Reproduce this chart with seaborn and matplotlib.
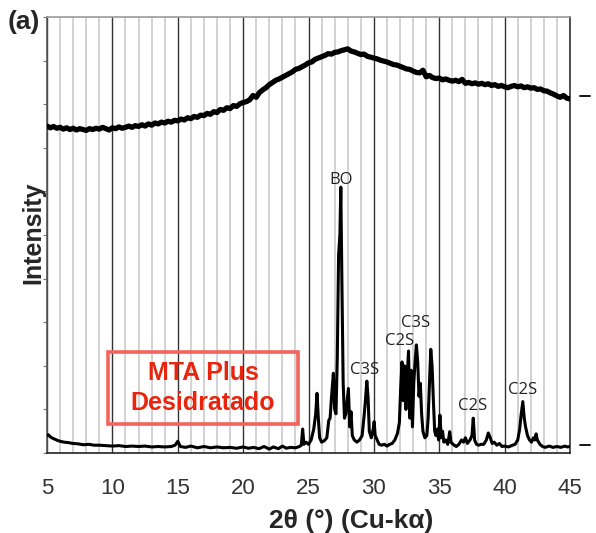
import matplotlib
matplotlib.use("Agg")
import matplotlib.pyplot as plt
import numpy as np
import pandas as pd
import seaborn as sns
from matplotlib.patches import Rectangle

# upper trace (hydrated / amorphous), scan step 0.25 deg from 5 to 45
top_y = [
    7.50, 7.46, 7.49, 7.45, 7.47, 7.43, 7.46, 7.42,
    7.45, 7.41, 7.44, 7.42, 7.40, 7.44, 7.42, 7.45,
    7.43, 7.47, 7.44, 7.41, 7.46, 7.44, 7.48, 7.45,
    7.47, 7.50, 7.47, 7.51, 7.49, 7.53, 7.50, 7.55,
    7.52, 7.57, 7.55, 7.59, 7.57, 7.61, 7.59, 7.63,
    7.62, 7.66, 7.64, 7.69, 7.67, 7.72, 7.70, 7.75,
    7.74, 7.79, 7.77, 7.83, 7.81, 7.88, 7.86, 7.92,
    7.90, 7.97, 7.95, 8.01, 8.04, 8.06, 8.10, 8.20,
    8.16, 8.27, 8.33, 8.38, 8.45, 8.50, 8.55, 8.58,
    8.62, 8.66, 8.70, 8.74, 8.80, 8.82, 8.86, 8.90,
    8.95, 8.97, 9.03, 9.06, 9.09, 9.12, 9.16, 9.15,
    9.19, 9.20, 9.23, 9.25, 9.27, 9.22, 9.20, 9.17,
    9.14, 9.15, 9.10, 9.08, 9.06, 9.04, 9.01, 8.99,
    8.97, 8.94, 8.91, 8.90, 8.87, 8.84, 8.81, 8.80,
    8.76, 8.73, 8.72, 8.78, 8.63, 8.66, 8.61, 8.59,
    8.60, 8.56, 8.58, 8.55, 8.53, 8.55, 8.52, 8.57,
    8.48, 8.50, 8.47, 8.49, 8.46, 8.48, 8.45, 8.47,
    8.43, 8.45, 8.41, 8.43, 8.40, 8.38, 8.41, 8.43,
    8.40, 8.42, 8.38, 8.40, 8.37, 8.38, 8.34, 8.35,
    8.31, 8.30, 8.26, 8.23, 8.19, 8.16, 8.20, 8.14,
    8.12,
]
top_x = np.linspace(5, 45, len(top_y))

# lower trace (MTA Plus desidratado)
bottom_x = [
    5.0, 5.1, 5.3, 5.5, 5.8, 6.0, 6.3, 6.6, 7.0, 7.4, 7.8, 8.2, 8.6, 9.0, 9.5,
    10.0, 10.5, 11.0, 11.5, 12.0, 12.5, 13.0, 13.5, 14.0, 14.5, 14.8, 15.0, 15.2,
    15.6, 16.0, 16.5, 17.0, 17.5, 18.0, 18.5, 19.0, 19.5, 20.0, 20.4, 20.8, 21.2,
    21.6, 22.0, 22.3, 22.7, 23.0, 23.3, 23.6, 24.0, 24.3,
    24.45, 24.55, 24.65, 24.8, 25.0, 25.2, 25.4, 25.55, 25.65, 25.75, 25.85, 26.0,
    26.2, 26.4, 26.55, 26.65, 26.75, 26.9, 27.0, 27.1, 27.2, 27.3, 27.4, 27.47,
    27.55, 27.65, 27.75, 27.85, 27.95, 28.05, 28.15, 28.25, 28.35, 28.5, 28.7,
    28.9, 29.1, 29.25, 29.35, 29.46, 29.55, 29.65, 29.8, 29.95, 30.02, 30.1, 30.25,
    30.4, 30.6, 30.8, 31.0, 31.2, 31.4, 31.6, 31.8, 31.95, 32.05, 32.15, 32.25,
    32.35, 32.45, 32.55, 32.65, 32.75, 32.85, 32.95, 33.05, 33.15, 33.25, 33.35,
    33.45, 33.55, 33.65, 33.75, 33.9, 34.05, 34.15, 34.25, 34.35, 34.45, 34.55,
    34.65, 34.75, 34.85, 34.95, 35.05, 35.15, 35.25, 35.35, 35.5, 35.65, 35.8,
    35.9, 36.05, 36.3, 36.5, 36.7, 36.85, 37.0, 37.15, 37.35, 37.5, 37.6, 37.7,
    37.85, 38.0, 38.2, 38.4, 38.6, 38.75, 38.9, 39.05, 39.2, 39.4, 39.6, 39.8,
    40.0, 40.3, 40.6, 40.8, 41.0, 41.15, 41.25, 41.39, 41.5, 41.6, 41.75, 41.9,
    42.05, 42.2, 42.3, 42.41, 42.5, 42.7, 42.9, 43.1, 43.4, 43.7, 44.0, 44.3,
    44.6, 44.8, 45.0,
]
bottom_y = [
    0.40, 0.42, 0.36, 0.33, 0.29, 0.27, 0.25, 0.24, 0.22, 0.21, 0.19, 0.20, 0.18, 0.18, 0.17,
    0.16, 0.17, 0.15, 0.16, 0.15, 0.16, 0.14, 0.15, 0.14, 0.15, 0.18, 0.27, 0.15,
    0.13, 0.16, 0.12, 0.15, 0.12, 0.14, 0.12, 0.13, 0.11, 0.14, 0.11, 0.13, 0.10,
    0.15, 0.09, 0.14, 0.10, 0.16, 0.11, 0.13, 0.12, 0.15,
    0.18, 0.55, 0.20, 0.25, 0.20, 0.30, 0.55, 0.90, 1.37, 0.80, 0.35, 0.25,
    0.28, 0.35, 0.75, 0.80, 1.25, 1.83, 1.00, 0.90, 2.20, 4.55, 5.00, 6.10,
    4.00, 1.60, 0.80, 0.90, 1.20, 1.48, 0.60, 0.95, 0.40, 0.30, 0.25,
    0.30, 0.40, 0.85, 1.20, 1.65, 1.30, 0.50, 0.35, 0.55, 0.72, 0.40, 0.30,
    0.20, 0.18, 0.20, 0.16, 0.20, 0.22, 0.30, 0.45, 0.70, 1.50, 2.09, 1.20,
    2.00, 1.00, 1.80, 2.34, 0.80, 1.90, 0.60, 1.60, 2.10, 2.48, 2.10,
    1.30, 1.60, 0.90, 0.50, 0.35, 0.40, 0.80, 1.60, 2.38, 2.00, 1.20,
    0.50, 0.40, 0.55, 0.30, 0.87, 0.35, 0.50, 0.25, 0.30, 0.20, 0.49,
    0.25, 0.20, 0.15, 0.20, 0.30, 0.25, 0.35, 0.22, 0.30, 0.40, 0.80, 0.30,
    0.20, 0.18, 0.20, 0.20, 0.30, 0.46, 0.35, 0.22, 0.25, 0.18, 0.22, 0.15,
    0.16, 0.14, 0.18, 0.20, 0.30, 0.55, 0.85, 1.18, 0.80, 0.60, 0.40, 0.30,
    0.25, 0.35, 0.30, 0.44, 0.30, 0.20, 0.15, 0.13, 0.16, 0.13, 0.15, 0.13,
    0.16, 0.14, 0.15,
]

# phase labels
peak_labels = ["BO", "C3S", "C2S", "C3S", "C2S", "C2S"]
peak_x = [27.47, 29.32, 31.97, 33.2, 37.58, 41.39]
peak_y = [6.26, 1.91, 2.57, 2.98, 1.08, 1.45]

# reference marks on the right
ref_levels = [8.2, 0.18]

sns.set_style("white")
plt.rcParams['font.family'] = ['Liberation Sans', 'DejaVu Sans']

fig = plt.figure(figsize=(5.96, 5.33), dpi=100)
ax = fig.add_axes([0.0789, 0.150, 0.8775, 0.818])

df_top = pd.DataFrame({"theta": top_x, "I": top_y})
df_bot = pd.DataFrame({"theta": bottom_x, "I": bottom_y})
sns.lineplot(data=df_top, x="theta", y="I", color="black", lw=3.8, sort=False,
             estimator=None, ax=ax, zorder=5)
sns.lineplot(data=df_bot, x="theta", y="I", color="black", lw=2.2, sort=False,
             estimator=None, ax=ax, zorder=5)

ax.set_xlim(5, 45)
ax.set_ylim(0, 10)
ax.set_xticks(range(5, 46, 5))
ax.set_xticks(range(5, 46), minor=True)
ax.set_yticks(range(0, 11))
ax.set_yticklabels([])
ax.grid(which="minor", axis="x", color="#d2d2d2", lw=1.4, zorder=0)
ax.grid(which="major", axis="x", color="#333333", lw=1.0, zorder=1)
ax.set_axisbelow(True)
ax.tick_params(axis="x", which="major", direction="out", length=6, width=1.0,
               color="#333333", labelsize=16, labelcolor="#333333", pad=12)
ax.tick_params(axis="x", which="minor", length=0)
ax.tick_params(axis="y", direction="out", length=3, width=0.8, color="#777777", left=True)
for side, col in [("left", "#555555"), ("bottom", "#222222"), ("top", "#999999"), ("right", "#333333")]:
    ax.spines[side].set_color(col)
    ax.spines[side].set_linewidth(1.2)
ax.set_xlabel("")
ax.set_ylabel("")

for lab, px, py in zip(peak_labels, peak_x, peak_y):
    ax.text(px, py, lab, ha="center", va="center", fontsize=12, color="#222222",
            family=["Open Sans", "DejaVu Sans"], zorder=6)

for lev in ref_levels:
    ax.plot([1.019, 1.038], [lev, lev], transform=ax.get_yaxis_transform(),
            color="black", lw=1.3, clip_on=False)

ax.add_patch(Rectangle((0.1166, 0.0665), 0.3634, 0.1652, transform=ax.transAxes,
                       fill=False, edgecolor="#f2645c", lw=2.6, zorder=7))
ax.text(0.2983, 0.149, "MTA Plus\nDesidratado", transform=ax.transAxes, ha="center",
        va="center", fontsize=18, fontweight="bold", color="#e8250e", linespacing=1.3,
        zorder=8)

fig.text(351 / 596, 1 - 521 / 533, "2θ (°) (Cu-kα)", ha="center", va="center",
         fontsize=19, fontweight="bold")
fig.text(33 / 596, 1 - 233 / 533, "Intensity", ha="center", va="center",
         rotation=90, fontsize=18, fontweight="bold")
fig.text(24 / 596, 1 - 22 / 533, "(a)", ha="center", va="center",
         fontsize=19, fontweight="bold")

fig.savefig("out.png", dpi=100)
